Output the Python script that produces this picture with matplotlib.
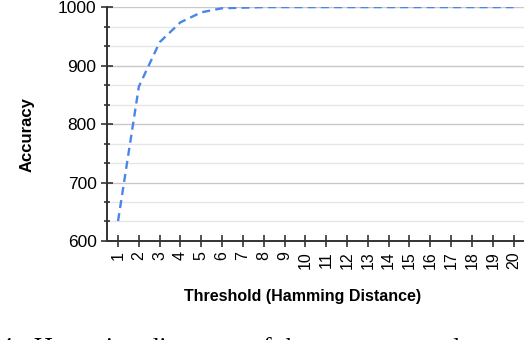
import numpy as np
import matplotlib.pyplot as plt
from matplotlib.ticker import MultipleLocator

# data
thresholds = list(range(1, 21))
accuracy = [634, 864, 940, 974, 991, 998, 999, 1000, 1000, 1000,
            1000, 1000, 1000, 1000, 1000, 1000, 1000, 1000, 1000, 1000]
y_ticks = [600, 700, 800, 900, 1000]

plt.rcParams['font.family'] = ['Liberation Sans', 'DejaVu Sans']

fig = plt.figure(figsize=(5.24, 3.4), dpi=100)
ax = fig.add_axes([0.2042, 0.2912, 0.7958, 0.688])

ax.plot(thresholds, accuracy, color='#4a86e8', linestyle=(0, (3.4, 2.2)),
        linewidth=1.7, zorder=3)

ax.set_xlim(0.47, 20.5)
ax.set_ylim(600, 1000)
ax.set_xticks(thresholds)
ax.set_xticklabels([str(t) for t in thresholds], rotation=90, fontsize=11.5)
ax.set_yticks(y_ticks)
ax.set_yticklabels([str(v) for v in y_ticks], fontsize=12.5)
ax.yaxis.set_minor_locator(MultipleLocator(100 / 3))

ax.grid(True, which='major', axis='y', color='#c8c8c8', linewidth=1.0, zorder=0)
ax.grid(True, which='minor', axis='y', color='#e6e6e6', linewidth=1.0, zorder=0)

for s in ['top', 'right']:
    ax.spines[s].set_visible(False)
for s in ['left', 'bottom']:
    ax.spines[s].set_color('#333333')
    ax.spines[s].set_linewidth(1.4)

ax.tick_params(axis='both', which='major', direction='inout', length=9,
               width=1.2, color='#333333', pad=3)
ax.tick_params(axis='y', which='minor', direction='inout', length=4,
               width=1.2, color='#333333')
ax.tick_params(axis='y', which='major', pad=3)

ax.set_xlabel('Threshold (Hamming Distance)', fontsize=11.5, fontweight='bold',
              va='center')
ax.xaxis.set_label_coords(0.47, -0.239)
ax.set_ylabel('Accuracy', fontsize=12, fontweight='bold', va='center')
ax.yaxis.set_label_coords(-0.192, 0.453)
ax.set_facecolor('white')

# caption of the figure, cut off at the bottom edge as in the reference
fig.text(0.0, 1 - 337 / 340, '4:  Hamming distances of the reconstructed',
         family=['Liberation Serif', 'DejaVu Serif'], fontsize=19, ha='left',
         va='top')

fig.savefig('out.png', dpi=100)
